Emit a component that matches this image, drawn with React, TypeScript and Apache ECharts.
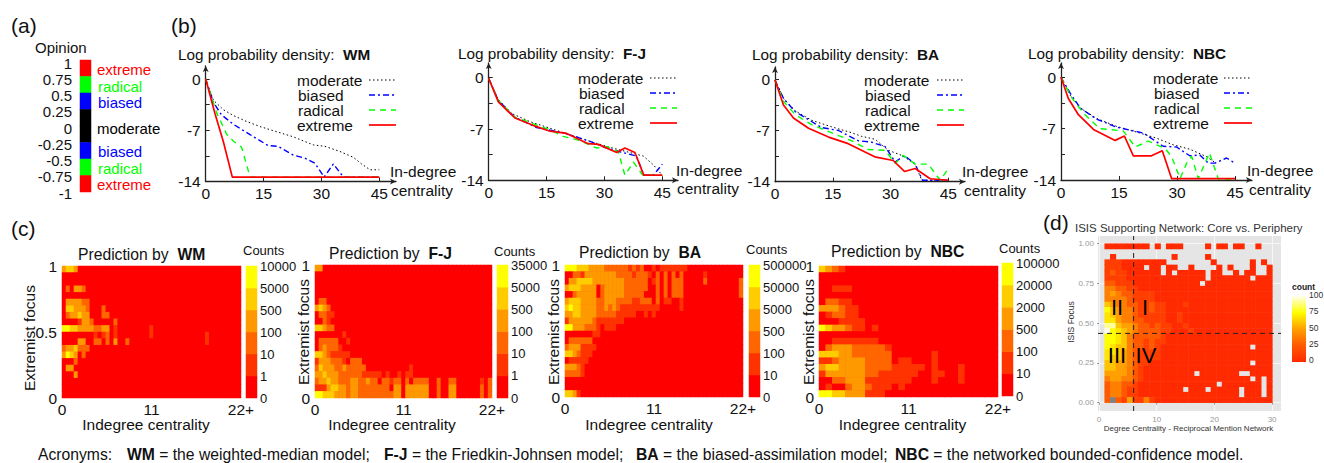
import React, { useEffect, useRef } from "react";
import * as echarts from "echarts";

const FONT = '"Liberation Sans", Arial, sans-serif';

// ---------- (a) opinion scale ----------
const opinionBandColors = ["#ff0000", "#00ff00", "#0000ff", "#000000", "#000000", "#0000ff", "#00ff00", "#ff0000"];
const opinionLabels = [
  ["extreme", 97, 69, "#ff0000"], ["radical", 98, 86, "#00ff00"], ["biased", 98, 102, "#0000ff"], ["moderate", 97, 128, "#000000"],
  ["biased", 98, 151, "#0000ff"], ["radical", 98, 168, "#00ff00"], ["extreme", 97, 184, "#ff0000"],
];

// ---------- (b) log probability density curves: [in-degree centrality, log density] ----------
const wmModerate = [[0,-0.1],[2,-2.9],[4.6,-4.2],[7.2,-5],[10.6,-5.8],[14.1,-6.5],[18.4,-7.2],[22.7,-7.9],[27.9,-9],[30.9,-9.2],[34.8,-9.9],[38.3,-10.7],[40.4,-11.6],[42.6,-12.4],[45,-12.4]];
const wmBiased = [[0,0],[2,-3.2],[4.1,-4.9],[7.2,-6.2],[11.5,-7.6],[16.2,-9.1],[18.8,-9.2],[22.7,-10.4],[25.7,-10.8],[28.3,-11.5],[30.7,-13.4],[33.1,-11.6],[35.7,-13.4],[45,-13.4]];
const wmRadical = [[0,0],[2.9,-4.7],[5.4,-7.5],[7.2,-8.5],[9.3,-9.3],[11.5,-13.4],[45,-13.4]];
const wmExtreme = [[0,0],[2.4,-4.7],[4.6,-8.6],[6.9,-13.4],[45,-13.4]];

const fjModerate = [[0,-0.1],[2.5,-3],[6,-4.9],[10.7,-6],[15.9,-6.9],[21.1,-7.8],[26.3,-8.7],[31.4,-9.5],[35.8,-10.1],[40.1,-10.7],[42.7,-11.9],[45,-13.3]];
const fjBiased = [[0,-0.1],[2.5,-3.1],[6.8,-5.4],[12.4,-6.8],[19.3,-7.5],[26.3,-8.7],[30.6,-9.6],[34,-10.1],[38.3,-10.7],[40.2,-13.3],[42.7,-13.3],[45,-11.8]];
const fjRadical = [[0,-0.1],[2.5,-3.1],[6.8,-5.4],[15.9,-7.1],[19.3,-8],[23.7,-8.6],[28,-9.6],[30.6,-9.4],[33.6,-10.1],[35.3,-13.3],[37.5,-11.5],[39.9,-13.3],[45,-13.3]];
const fjExtreme = [[0,-0.1],[2.5,-3.3],[6.8,-5.5],[11.5,-6.5],[15.9,-7.3],[20.2,-7.6],[25.8,-9],[28.4,-9.1],[33.2,-10.2],[35.3,-9.6],[37.9,-10.2],[40.2,-13.3],[45,-13.3]];

const baModerate = [[0,-0.1],[2.2,-2.6],[5.2,-4.3],[9.5,-5.6],[14.7,-6.5],[19.9,-7.3],[22.5,-7.8],[26,-8.2],[29.4,-9.7],[32.9,-10.4],[36.4,-11.6],[38.1,-13.8],[45,-13.8]];
const baBiased = [[0,-0.1],[2.2,-2.6],[5.2,-4.4],[12.1,-6.6],[16.5,-7],[21.6,-8.4],[25.1,-8.6],[28.6,-9.2],[31.2,-11.3],[33.6,-10.4],[36.4,-11.6],[38.3,-13.8],[45,-13.8]];
const baRadical = [[0,-0.1],[2.2,-3],[5.2,-4.8],[9.5,-6.2],[16.5,-7.7],[19.9,-8.4],[24.2,-9.6],[28.6,-9.7],[31.2,-11.5],[33.3,-10.4],[36.4,-11.6],[39.8,-11.6],[42.9,-13.8],[45,-12.2]];
const baExtreme = [[0,-0.1],[2.2,-3.5],[4.8,-5.3],[8.7,-6.7],[13.9,-7.9],[19,-8.8],[25.9,-10.6],[30.7,-11.1],[33.6,-12.6],[36.4,-12.2],[40.3,-13.6],[45,-13.8]];

const nbcModerate = [[0,0],[2.3,-2.4],[5,-4.2],[9.2,-5.6],[14.4,-6.7],[20.4,-7.6],[24.7,-8.3],[29,-9.2],[33.3,-9.8],[37.6,-10.8],[39.8,-11.6]];
const nbcBiased = [[0,0],[2.3,-2.1],[5,-4.2],[9.2,-5.7],[14.4,-6.8],[21.3,-7.6],[26.4,-9.4],[29.9,-9.5],[33.3,-10.7],[35.9,-10.6],[38.1,-11.7],[39.8,-11.7],[42.8,-11],[45,-11.7]];
const nbcRadical = [[0,0],[2.8,-2.8],[5.8,-4.9],[10,-7],[16.1,-7.3],[19.2,-9.5],[22.6,-8.7],[24.7,-9.2],[26.9,-9.7],[28.6,-10.8],[30.8,-13.8],[32.5,-11.7],[33.8,-10.8],[35.5,-13.8],[38.4,-10.3],[40.7,-13.9],[45,-13.9]];
const nbcExtreme = [[0,0],[1.9,-2.9],[4.5,-5.1],[8.4,-7.1],[14,-8.6],[16.4,-8],[18.7,-10.7],[23.4,-10.7],[26.2,-10],[28.6,-13.8],[45,-13.8]];

const curveNames = ["moderate", "biased", "radical", "extreme"];
const curveColors = ["#000000", "#0000ff", "#00ff00", "#ff0000"];
const curveWidths = [1, 1.4, 1.4, 1.7];
const curveDashes: any[] = [[1.5, 2.5], [6, 3, 2, 3], [6, 5], "solid"];

// ---------- (c) heat maps: one string per row, top to bottom; tokens are "startColumn:levels" ----------
const heatLevelColors = ["#ff0000", "#ff3300", "#ff6600", "#ff9900", "#ffcc00", "#ffff00"];
const wmRows = [
  "0:3443", "", "", "1:2 3:332", "", "1:333322", "1:44333 6:2 10:2", "1:233433 10:22",
  "4:1332 13:2", "0:5544333322 10:33 13:1 22:1", "8:1 10:12 13:1 22:1 36:1", "4:33 8:22 11:2 13:3 16:2 36:1",
  "0:2334222", "0:3543 5:2", "3:2", "1:33", "3:3", "", "", "",
];
const fjRows = [
  "0:33", "", "", "", "", "1:22", "0:3432", "1:2211", "2:21", "0:44322",
  "7:1", "1:22222 8:1", "1:232221", "0:443211111", "0:1333222 7:1 9:222", "0:2433322322222 24:1",
  "0:3343332222 10:22 12:11111 18:1 21:1 23:11", "0:2334332223322322 16:0 17:221 20:22 23:2 25:2222 31:2 34:22 42:1 44:2",
  "0:1113443323322222222 20:33 23:33 25:3333 31:2 34:33 42:2 44:2", "0:55444333233222222222 20:33 23:33 25:3333 31:2 34:33 42:2 44:2",
];
const baRows = [
  "0:555444 6:3333 10:222222 16:1 17:2 18:1 19:2 22:1 24:1 25:111 27:11 29:11",
  "2:22 4:1 5:33333 10:3 11:33 13:2222 17:1 18:2 19:22 21:1 23:2 25:2 27:2 29:2 35:1",
  "1:33 3:4444 7:33333333 15:222222 22:1 23:2 25:2 27:222 35:2 44:2",
  "0:3 1:444 4:3 5:333 9:2 10:33333 15:222222 23:2 25:2 27:222 44:2",
  "2:2 3:33 5:333 9:2 10:33333 15:22222 23:2 25:2 27:222 44:2",
  "0:3 1:444 4:3 5:333 8:22 10:333 13:22 15:22 17:11 19:222 23:2 25:11 29:1",
  "0:4 1:5 2:44 4:3333 8:22 10:3 11:2 12:3 13:2 14:1 15:1111 19:11111 23:1 29:1",
  "0:33 2:44 4:3333 8:22222 13:1111 17:1 20:1 22:1",
  "0:1 1:3 2:33 4:333 7:2 8:1111111",
  "0:55 2:3 3:33 5:2 6:2 7:2 8:1 10:111",
  "7:11", "1:222222", "0:2 1:333 4:1 5:11 7:1", "0:44 2:3 3:2 4:111", "1:11111", "0:3 1:33 3:2 4:1", "0:22 2:22 4:1", "", "", "0:44 2:3 3:1",
];
const nbcRows = [
  "0:4321", "", "", "2:111", "", "1:22 3:11", "0:333 3:2 4:11", "1:1 2:22 4:11", "3:1111", "0:54332 5:11 8:1",
  "", "2:1111111", "1:2 2:33 4:3 5:222221", "0:444 3:3 4:3 5:222222 17:1", "0:1 1:1 2:2 3:3 4:333 7:2222 12:11 17:1",
  "0:3 1:44 3:3 4:333 7:2222 11:11111 17:1 21:1", "0:1 1:3333 5:33 7:22 9:11111 14:1 17:11 21:1", "2:22 4:333 7:1111111 17:1 21:1",
  "1:1 4:2 5:33 7:2 8:111 12:1", "0:55 2:44 4:3 5:33 7:111",
];
const wmCountTicks = ["0", "1", "10", "100", "500", "5000", "10000"];
const fjCountTicks = ["0", "1", "10", "100", "500", "5000", "35000"];
const baCountTicks = ["0", "10", "100", "500", "5000", "50000", "500000"];
const nbcCountTicks = ["0", "10", "100", "500", "2000", "20000", "100000"];

// ---------- (d) ISIS network heat map: 30 rows of 30 cells, "." = empty, "g" = grey ----------
const isisLevelColors = ["#ff2a00", "#ff3e00", "#ff5a00", "#ff7f00", "#ffa000", "#ffc400", "#ffe600", "#ffff00", "#ffff99", "#fffff0"];
const isisGrey = "#808080";
const isisRows = [
  "00000000.0.000....0.00.00..0..",
  "..............................",
  ".0..........0.....0...........",
  "11100000000........0......0.0.",
  "1110000.00.00..0....0.0...0..0",
  "1211000000.0.00000.00..0.00..0",
  "111100000000000000.0000000.000",
  "22111000000000000.000000000000",
  "332211000000000000000000000000",
  "343221111000000000000000000000",
  "333321111000000000000000000000",
  "543322112110001000000000000000",
  "754332112110000000000000000000",
  "654332111110010000000000000000",
  "664332211110010000000000000000",
  "885443221211001000000000000000",
  "976543222211000100000000000000",
  "776532222210000000000000000000",
  "776532212110000000000000000000",
  "76553221210000000000000000.000",
  "665432111100000000000000000000",
  "655432111100000000000000000000",
  "55443211000000000000000000.000",
  "554432100000000000000000000000",
  "4444321000000000.0000000..0000",
  "34433210000000000000000000.0.0",
  "23322100000000000000.0000000.0",
  "23321100000000.000.00000.000.0",
  "233211000000000000000000.000.0",
  "2g2141131000000000000000000000",
];
const isisCountTicks = ["100", "75", "50", "25", "0"];
const isisRegionLabels = [["II", 1117, 307], ["I", 1145, 307], ["III", 1117, 355], ["IV", 1146, 355]];
const captionParts = [
  ["Acronyms:", 38],
  ["{b|WM} = the weighted-median model;", 127],
  ["{b|F-J} = the Friedkin-Johnsen model;", 384],
  ["{b|BA} = the biased-assimilation model;", 636],
  ["{b|NBC} = the networked bounded-confidence model.", 895],
];

// A single palette shared by the heat maps, read through one visualMap
const palette = [...heatLevelColors, ...opinionBandColors, ...isisLevelColors, isisGrey];
const opinionBase = heatLevelColors.length;
const isisBase = opinionBase + opinionBandColors.length;
const greyIndex = palette.length - 1;

function parseRuns(rows: string[], cols: number) {
  const out: number[][] = [];
  rows.forEach((row, r) => {
    const cells = new Array(cols).fill(0);
    row.split(" ").filter(Boolean).forEach((tok) => {
      const [s, lv] = tok.split(":");
      lv.split("").forEach((d, i) => { cells[Number(s) + i] = Number(d); });
    });
    cells.forEach((lv, c) => out.push([c, r, lv]));
  });
  return out;
}

function buildOption() {
  const grid: any[] = [], xAxis: any[] = [], yAxis: any[] = [], series: any[] = [], graphic: any[] = [];
  const heatIndices: number[] = [];

  const text = (t: string, x: number, y: number, size: number, o: any = {}) => graphic.push({
    type: "text", x, y, rotation: o.rotation || 0, silent: true, z: 20,
    style: {
      text: t, fontSize: size, fontFamily: FONT, fontWeight: o.weight || "normal",
      fill: o.fill || "#111", align: o.align || "left", verticalAlign: "middle",
      rich: { b: { fontSize: size, fontFamily: FONT, fontWeight: "bold", fill: o.fill || "#111" } },
    },
  });
  const addGrid = (left: number, top: number, width: number, height: number, extra: any = {}) => {
    grid.push({ left, top, width, height, borderWidth: 0, containLabel: false, ...extra });
    return grid.length - 1;
  };
  const addX = (a: any) => { xAxis.push(a); return xAxis.length - 1; };
  const addY = (a: any) => { yAxis.push(a); return yAxis.length - 1; };
  const hiddenCat = (gridIndex: number, n: number, inverse = false) => ({
    type: "category", gridIndex, show: false, inverse, data: Array.from({ length: n }, (_, i) => String(i)),
    axisLine: { show: false }, axisTick: { show: false }, axisLabel: { show: false }, splitLine: { show: false }, splitArea: { show: false },
  });
  const labelAxis = (gridIndex: number, min: number, max: number, interval: number, size: number, margin: number, formatter: any, position: string) => ({
    type: "value", gridIndex, min, max, interval, position,
    axisLine: { show: false }, axisTick: { show: false }, splitLine: { show: false },
    axisLabel: { fontSize: size, fontFamily: FONT, color: "#111", margin, formatter, hideOverlap: false },
  });
  const addHeat = (g: number, cols: number, rows: number, data: any[]) => {
    const xi = addX(hiddenCat(g, cols));
    const yi = addY(hiddenCat(g, rows, true));
    heatIndices.push(series.length);
    series.push({ type: "heatmap", xAxisIndex: xi, yAxisIndex: yi, data, silent: true, progressive: 0, emphasis: { disabled: true } });
  };

  // ---- panel letters and caption
  text("(a)", 11, 25, 21);
  text("(b)", 171, 25, 21);
  text("(c)", 11, 228, 21);
  text("(d)", 1043, 222, 21);
  captionParts.forEach(([t, x]: any) => text(t, x, 454, 15.7));

  // ---- (a)
  const ga = addGrid(80, 60, 11, 132);
  addHeat(ga, 1, opinionBandColors.length, opinionBandColors.map((_, r) => [0, r, opinionBase + r]));
  const gal = addGrid(80, 63, 11, 130);
  addY(labelAxis(gal, -1, 1, 0.25, 15, 8, undefined, "left"));
  addX({ type: "value", gridIndex: gal, min: 0, max: 1, show: false });
  text("Opinion", 35, 47, 15);
  opinionLabels.forEach(([t, x, y, fill]: any) => text(t, x, y, 15, { fill }));

  // ---- (b)
  const linePanels = [
    { name: "WM", curves: [wmModerate, wmBiased, wmRadical, wmExtreme], x0: 205.7, x45: 379.3, y0: 79, y14: 181.5, top: 66, right: 396, tx: 178, ty: 54, lx: 297, ly: 80, l1: 369, l2: 396, ix: 390, iy: 171, cx: 391, cy: 190 },
    { name: "F-J", curves: [fjModerate, fjBiased, fjRadical, fjExtreme], x0: 488.7, x45: 662.3, y0: 77.7, y14: 180.3, top: 63, right: 678, tx: 458, ty: 53, lx: 578, ly: 78, l1: 650, l2: 677, ix: 676, iy: 170, cx: 677, cy: 188 },
    { name: "BA", curves: [baModerate, baBiased, baRadical, baExtreme], x0: 775, x45: 948.3, y0: 79.3, y14: 181.7, top: 67, right: 965, tx: 752, ty: 54, lx: 864, ly: 80, l1: 937, l2: 964, ix: 962, iy: 171, cx: 964, cy: 190 },
    { name: "NBC", curves: [nbcModerate, nbcBiased, nbcRadical, nbcExtreme], x0: 1061, x45: 1235, y0: 77.3, y14: 180, top: 63, right: 1252, tx: 1028, ty: 53, lx: 1153, ly: 78, l1: 1224, l2: 1252, ix: 1247, iy: 170, cx: 1249, cy: 189 },
  ];
  linePanels.forEach((p) => {
    const g = addGrid(p.x0, p.top, p.right - p.x0, p.y14 - p.top);
    const pxX = (p.x45 - p.x0) / 45, pxY = (p.y14 - p.y0) / 14;
    const axisLine = { show: true, onZero: false, symbol: ["none", "arrow"], symbolSize: [4.5, 6], lineStyle: { color: "#222", width: 1.3 } };
    const xi = addX({
      type: "value", gridIndex: g, min: 0, max: (p.right - p.x0) / pxX, splitLine: { show: false }, axisLine,
      axisTick: { show: true, inside: true, length: 4, customValues: [0, 15, 30, 45], lineStyle: { color: "#222" } },
      axisLabel: { customValues: [0, 15, 30, 45], fontSize: 15.5, fontFamily: FONT, color: "#111", margin: 4 },
    });
    const yi = addY({
      type: "value", gridIndex: g, min: -14, max: (p.y0 - p.top) / pxY, splitLine: { show: false }, axisLine,
      axisTick: { show: true, inside: true, length: 4, customValues: [-14, -10.5, -7, -3.5, 0], lineStyle: { color: "#222" } },
      axisLabel: { customValues: [-14, -7, 0], fontSize: 15.5, fontFamily: FONT, color: "#111", margin: 5 },
    });
    p.curves.forEach((data, i) => series.push({
      type: "line", name: curveNames[i], xAxisIndex: xi, yAxisIndex: yi, data, showSymbol: false, silent: true, z: 3 + i,
      lineStyle: { color: curveColors[i], width: curveWidths[i], type: curveDashes[i] },
    }));
    text(`Log probability density:  {b|${p.name}}`, p.tx, p.ty, 15.3);
    curveNames.forEach((n, i) => {
      text(n, p.lx + (i === 1 || i === 2 ? 1 : 0), p.ly + i * 15, 15.5);
      graphic.push({
        type: "line", silent: true, z: 20,
        shape: { x1: p.l1, y1: p.ly + i * 15, x2: p.l2, y2: p.ly + i * 15 },
        style: { stroke: curveColors[i], lineWidth: curveWidths[i], lineDash: curveDashes[i] === "solid" ? null : curveDashes[i] },
      });
    });
    text("In-degree", p.ix, p.iy, 15.5);
    text("centrality", p.cx, p.cy, 15.5);
  });

  // ---- (c)
  const heatPanels = [
    { name: "WM", rows: wmRows, cols: 45, ticks: wmCountTicks, left: 62, right: 241, top: 266, bottom: 398, bar: 246, barTop: 266, barBottom: 398, yStep: 0.5, titleX: 78, titleY: 254, countsX: 243, countsY: 250, yTitle: 29, yTitleMid: 338, xTitleMid: 146 },
    { name: "F-J", rows: fjRows, cols: 45, ticks: fjCountTicks, left: 315, right: 492, top: 265, bottom: 398, bar: 497, barTop: 265, barBottom: 398, yStep: 1, titleX: 329, titleY: 253, countsX: 494, countsY: 251, yTitle: 303, yTitleMid: 332, xTitleMid: 392 },
    { name: "BA", rows: baRows, cols: 45, ticks: baCountTicks, left: 565, right: 743, top: 265, bottom: 397, bar: 749, barTop: 265, barBottom: 397, yStep: 1, titleX: 579, titleY: 252, countsX: 746, countsY: 249, yTitle: 553, yTitleMid: 332, xTitleMid: 649 },
    { name: "NBC", rows: nbcRows, cols: 27, ticks: nbcCountTicks, left: 819, right: 998, top: 266, bottom: 397, bar: 1002, barTop: 263, barBottom: 396, yStep: 1, titleX: 831, titleY: 251, countsX: 999, countsY: 248, yTitle: 808, yTitleMid: 332, xTitleMid: 902.5 },
  ];
  heatPanels.forEach((p) => {
    const g = addGrid(p.left, p.top, p.right - p.left, p.bottom - p.top, { show: true, backgroundColor: heatLevelColors[0] });
    addHeat(g, p.cols, p.rows.length, parseRuns(p.rows, p.cols));
    addX(labelAxis(g, 0, 22, 11, 15.5, 3, (v: number) => (v === 22 ? "22+" : String(v)), "bottom"));
    addY(labelAxis(g, 0, 1, p.yStep, 15.5, 5, undefined, "left"));
    const b = addGrid(p.bar, p.barTop, 11, p.barBottom - p.barTop);
    addHeat(b, 1, heatLevelColors.length, heatLevelColors.map((_, i) => [0, heatLevelColors.length - 1 - i, i]));
    addY(labelAxis(b, 0, 6, 1, 13, 3, (v: number) => p.ticks[v] ?? "", "right"));
    addX({ type: "value", gridIndex: b, min: 0, max: 1, show: false });
    text(`Prediction by  {b|${p.name}}`, p.titleX, p.titleY, 15.7);
    text("Counts", p.countsX, p.countsY, 13);
    text("Indegree centrality", p.xTitleMid, 424, 15.5, { align: "center" });
    text("Extremist focus", p.yTitle, p.yTitleMid, 15.5, { align: "center", rotation: Math.PI / 2 });
  });

  // ---- (d)
  const pxPerX = 5.77, pxPerY = 159, panelL = 1098, panelR = 1281, panelT = 236, panelB = 411;
  const xMin = (panelL - 1099) / pxPerX, xMax = (panelR - 1099) / pxPerX;
  const yMin = (402.7 - panelB) / pxPerY, yMax = (402.7 - panelT) / pxPerY;
  const gd = addGrid(panelL, panelT, panelR - panelL, panelB - panelT, { show: true, backgroundColor: "#e5e5e5" });
  const dAxis = (min: number, max: number, ticks: number[], fmt: any) => ({
    type: "value", gridIndex: gd, min, max,
    axisLine: { show: false },
    axisTick: { show: true, length: 2, customValues: ticks, lineStyle: { color: "#999" } },
    axisLabel: { customValues: ticks, fontSize: 8, fontFamily: FONT, color: "#999", margin: 4, formatter: fmt },
    splitLine: { show: true, lineStyle: { color: "#f6f6f6", width: 1 } },
  });
  const dx = addX(dAxis(xMin, xMax, [0, 10, 20, 30], undefined));
  const dy = addY(dAxis(yMin, yMax, [0, 0.25, 0.5, 0.75, 1], (v: number) => v.toFixed(2)));
  const gh = addGrid(1104.7, 243.7, 167.7, 159);
  const isisData: number[][] = [];
  isisRows.forEach((row, r) => row.split("").forEach((ch, c) => {
    if (ch === ".") return;
    isisData.push([c, r, ch === "g" ? greyIndex : isisBase + Number(ch)]);
  }));
  addHeat(gh, 30, 30, isisData);
  const refStyle = { color: "#222", width: 1, type: [5, 4] };
  series.push({ type: "line", xAxisIndex: dx, yAxisIndex: dy, data: [[6, yMin], [6, yMax]], showSymbol: false, silent: true, z: 6, lineStyle: refStyle });
  series.push({ type: "line", xAxisIndex: dx, yAxisIndex: dy, data: [[xMin, 0.436], [xMax, 0.436]], showSymbol: false, silent: true, z: 6, lineStyle: refStyle });
  isisRegionLabels.forEach(([t, x, y]: any) => text(t, x, y, 22, { align: "center", fill: "#000" }));
  text("ISIS Supporting Network: Core vs. Periphery", 1075, 228, 11.5, { fill: "#333" });
  text("Degree Centrality - Reciprocal Mention Network", 1188.5, 428, 8, { align: "center", fill: "#333" });
  text("ISIS Focus", 1071, 322, 8.5, { align: "center", rotation: Math.PI / 2, fill: "#333" });
  text("count", 1292, 287, 8.5, { weight: "bold", fill: "#222" });
  graphic.push({
    type: "rect", silent: true, z: 20, shape: { x: 1292, y: 296, width: 14, height: 66 },
    style: { fill: new echarts.graphic.LinearGradient(0, 0, 0, 1, [
      { offset: 0, color: "#fffff0" }, { offset: 0.25, color: "#ffff00" }, { offset: 0.5, color: "#ffa000" }, { offset: 0.75, color: "#ff5a00" }, { offset: 1, color: "#ff2a00" },
    ]) },
  });
  isisCountTicks.forEach((t, i) => text(t, 1309, 295 + i * 16.3, 8.5, { fill: "#333" }));

  const visualMap = {
    type: "piecewise", show: false, dimension: 2, seriesIndex: heatIndices,
    pieces: palette.map((color, i) => ({ value: i, color })),
  };
  return { animation: false, backgroundColor: "#fff", textStyle: { fontFamily: FONT }, grid, xAxis, yAxis, series, graphic, visualMap };
}

export default function App() {
  const ref = useRef<HTMLDivElement>(null);
  useEffect(() => {
    document.body.style.margin = "0";
    const chart = echarts.init(ref.current!, undefined, { renderer: "svg" });
    chart.setOption(buildOption() as any);
    return () => chart.dispose();
  }, []);
  return <div ref={ref} style={{ position: "absolute", left: 0, top: 0, width: 1324, height: 463 }} />;
}
